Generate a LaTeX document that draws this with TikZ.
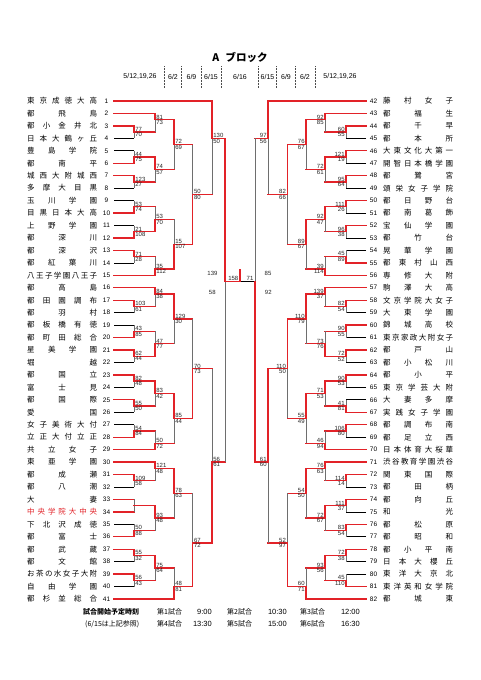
\documentclass[tikz,border=0pt]{standalone}
\usepackage{fontspec}
\setmainfont{Liberation Sans}
\newfontfamily\jp{Noto Sans CJK JP}
\usepackage{tikz}

\definecolor{winred}{RGB}{226,34,40}
\definecolor{losegray}{RGB}{110,110,110}

% 校名を枠いっぱいに均等割り
\newcommand{\spread}[1]{\makebox[70pt][s]{#1}}

\begin{document}
\begin{tikzpicture}[
    x=1pt, y=-1pt,
    win/.style={draw=winred, line width=1.3pt, line cap=rect},
    lose/.style={draw=losegray, line width=0.7pt},
    teamline/.style={draw=black, line width=0.7pt},
    tname/.style={anchor=west, inner sep=0pt, font=\jp\fontsize{7.5}{8}\selectfont},
    tnum/.style={inner sep=0pt, font=\fontsize{6.5}{7}\selectfont},
    score/.style={inner sep=0.4pt, font=\fontsize{6}{6}\selectfont, text=black!85},
    datel/.style={font=\fontsize{7}{8}\selectfont},
    sepline/.style={draw=black!70, densely dotted, line width=0.5pt},
    note/.style={anchor=west, inner sep=0pt, font=\jp\fontsize{7}{8}\selectfont},
    ntime/.style={anchor=east, inner sep=0pt, font=\fontsize{7.5}{8}\selectfont},
]
\fill[white] (0,0) rectangle (481,680);
\useasboundingbox (0,0) rectangle (481,680);

% 見出し
\node[font=\jp\bfseries\fontsize{10.5}{12}\selectfont] (title) at (240,57) {A\hspace{0.6em}ブロック};

\node[datel] (d1) at (140,76.7) {5/12,19,26};
\node[datel] (d2) at (173,76.7) {6/2};
\node[datel] (d3) at (191.5,76.7) {6/9};
\node[datel] (d4) at (211,76.7) {6/15};
\node[datel] (d5) at (240,76.7) {6/16};
\node[datel] (d6) at (267.5,76.7) {6/15};
\node[datel] (d7) at (286,76.7) {6/9};
\node[datel] (d8) at (305,76.7) {6/2};
\node[datel] (d9) at (340,76.7) {5/12,19,26};

\foreach \x [count=\i] in {164,181.7,201,221.5,258.3,276.7,295.3,315} {
  \coordinate (st\i) at (\x,66);
  \coordinate (sb\i) at (\x,88);
  \draw[sepline] (st\i) -- (sb\i);
}

\begin{scope}[shift={(0,88.55)}, y=-12.45pt]

% 左ブロック 出場校
\foreach \n/\nm/\xe/\w in {
  1/{東 京 成 徳 大 高}/212/1, 2/{都 飛 鳥}/155/1, 3/{都 小 金 井 北}/134/1,
  4/{日 本 大 鶴 ヶ 丘}/134/0, 5/{豊 島 学 院}/134/0, 6/{都 南 平}/134/1,
  7/{城 西 大 附 城 西}/134/1, 8/{多 摩 大 目 黒}/134/0, 9/{玉 川 学 園}/134/0,
  10/{目 黒 日 本 大 高}/134/1, 11/{上 野 学 園}/134/0, 12/{都 深 川}/134/1,
  13/{都 深 沢}/134/1, 14/{都 紅 葉 川}/134/0, 15/{八 王 子 学 園 八 王 子}/155/1,
  16/{都 高 島}/155/1, 17/{都 田 園 調 布}/134/1, 18/{都 羽 村}/134/0,
  19/{都 板 橋 有 徳}/134/0, 20/{都 町 田 総 合}/134/1, 21/{星 美 学 園}/134/1,
  22/{堀 越}/134/0, 23/{都 国 立}/134/1, 24/{富 士 見}/134/0,
  25/{都 国 際}/134/1, 26/{愛 国}/134/0, 27/{女 子 美 術 大 付}/134/0,
  28/{立 正 大 付 立 正}/134/1, 29/{共 立 女 子}/155/1, 30/{東 亜 学 園}/155/1,
  31/{都 成 瀬}/134/1, 32/{都 八 潮}/134/0, 33/{大 妻}/134/1,
  34/{中 央 学 院 大 中 央}/134/1, 35/{下 北 沢 成 徳}/134/0, 36/{都 富 士}/134/1,
  37/{都 武 蔵}/134/1, 38/{都 文 館}/134/0, 39/{お 茶 の 水 女 子 大 附}/134/1,
  40/{自 由 学 園}/134/0, 41/{都 杉 並 総 合}/174/1} {
  \ifnum\n=34 \def\tc{winred}\else\def\tc{black}\fi
  \node[tnum] (n\n) at (106.5,\n) {\n};
  \node[tname, text=\tc] (t\n) at (27,\n) {\spread{\nm}};
  \coordinate (a\n) at (114,\n);
  \coordinate (z\n) at (\xe,\n);
  \ifnum\w=1 \draw[win] (a\n) -- (z\n); \else \draw[teamline] (a\n) -- (z\n); \fi
}

% 右ブロック 出場校
\foreach \n/\nm/\xe/\w in {
  42/{藤 村 女 子}/268/1, 43/{都 福 生}/325/1, 44/{都 千 早}/346/1,
  45/{都 本 所}/346/0, 46/{大 東 文 化 大 第 一}/346/1, 47/{開 智 日 本 橋 学 園}/346/0,
  48/{都 鷺 宮}/346/1, 49/{頌 栄 女 子 学 院}/346/0, 50/{都 日 野 台}/346/1,
  51/{都 南 葛 飾}/346/0, 52/{宝 仙 学 園}/346/1, 53/{都 竹 台}/346/0,
  54/{晃 華 学 園}/346/0, 55/{都 東 村 山 西}/346/1, 56/{専 修 大 附}/325/1,
  57/{駒 澤 大 高}/325/1, 58/{文 京 学 院 大 女 子}/346/1, 59/{大 東 学 園}/346/0,
  60/{錦 城 高 校}/346/1, 61/{東 京 家 政 大 附 女 子}/346/0, 62/{都 戸 山}/346/1,
  63/{都 小 松 川}/346/0, 64/{都 小 平}/346/1, 65/{東 京 学 芸 大 附}/346/0,
  66/{大 妻 多 摩}/346/0, 67/{実 践 女 子 学 園}/346/1, 68/{都 調 布 南}/346/1,
  69/{都 足 立 西}/346/0, 70/{日 本 体 育 大 桜 華}/325/1, 71/{渋 谷 教 育 学 園 渋 谷}/325/1,
  72/{関 東 国 際}/346/1, 73/{都 田 柄}/346/0, 74/{都 向 丘}/346/1,
  75/{和 光}/346/0, 76/{都 松 原}/346/1, 77/{都 昭 和}/346/0,
  78/{都 小 平 南}/346/1, 79/{日 本 大 櫻 丘}/346/0, 80/{東 洋 大 京 北}/346/0,
  81/{東 洋 英 和 女 学 院}/346/1, 82/{都 城 東}/306/1} {
  \pgfmathtruncatemacro\k{\n-41}
  \node[tnum] (n\n) at (373.5,\k) {\n};
  \node[tname] (t\n) at (383,\k) {\spread{\nm}};
  \coordinate (a\n) at (366,\k);
  \coordinate (z\n) at (\xe,\k);
  \ifnum\w=1 \draw[win] (a\n) -- (z\n); \else \draw[teamline] (a\n) -- (z\n); \fi
}

% 左ブロック 試合
\foreach \x/\px/\yt/\yb/\ye/\w/\sa/\sb [count=\i] in {
  134/155/3/4/3.5/1/77/70, 134/155/5/6/5.5/2/44/75, 134/155/7/8/7.5/1/123/27,
  134/155/9/10/9.5/2/53/74, 134/155/11/12/11.5/2/21/108, 134/155/13/14/13.5/1/71/28,
  134/155/17/18/17.5/1/103/61, 134/155/19/20/19.5/2/43/85, 134/155/21/22/21.5/1/62/44,
  134/155/23/24/23.5/1/82/48, 134/155/25/26/25.5/1/55/50, 134/155/27/28/27.5/2/54/84,
  134/155/31/32/31.5/1/109/58, 134/155/33/34/33.5/0/{}/{}, 134/155/35/36/35.5/2/50/88,
  134/155/37/38/37.5/1/55/32, 134/155/39/40/39.5/1/56/43,
  155/174/2/3.5/2.5/1/81/73, 155/174/5.5/7.5/6.5/1/74/57, 155/174/9.5/11.5/10.5/2/53/70,
  155/174/13.5/15/14.5/2/35/112, 155/174/16/17.5/16.5/1/84/38, 155/174/19.5/21.5/20.5/2/47/77,
  155/174/23.5/25.5/24.5/1/83/42, 155/174/27.5/29/28.5/2/50/72, 155/174/30/31.5/30.5/1/121/48,
  155/174/33.5/35.5/34.5/1/93/48, 155/174/37.5/39.5/38.5/1/75/64,
  174/192.7/2.5/6.5/4.5/1/72/69, 174/192.7/10.5/14.5/12.5/2/15/107,
  174/192.7/16.5/20.5/18.5/1/129/30, 174/192.7/24.5/28.5/26.5/1/85/44,
  174/192.7/30.5/34.5/32.5/1/78/63, 174/192.7/38.5/41/40/2/48/81,
  192.7/212/4.5/12.5/8.5/2/50/80, 192.7/212/18.5/26.5/22.5/2/70/73,
  192.7/212/32.5/40/36.5/2/67/72,
  212/225/1/8.5/4/1/130/50, 212/225/22.5/36.5/30/2/56/61} {
  \coordinate (Lt\i) at (\x,\yt);
  \coordinate (Lb\i) at (\x,\yb);
  \coordinate (Le\i) at (\x,\ye);
  \coordinate (Lp\i) at (\px,\ye);
  \ifnum\w=1 \draw[win] (Lt\i) -- (Le\i); \else \draw[lose] (Lt\i) -- (Le\i); \fi
  \ifnum\w=2 \draw[win] (Le\i) -- (Lb\i); \else \draw[lose] (Le\i) -- (Lb\i); \fi
  \draw[win] (Le\i) -- (Lp\i);
  \node[score, anchor=south west, xshift=0.8pt] (Lsa\i) at (Le\i) {\sa};
  \node[score, anchor=north west, xshift=0.8pt] (Lsb\i) at (Le\i) {\sb};
}

% 右ブロック 試合
\foreach \x/\px/\yt/\yb/\ye/\w/\sa/\sb [count=\i] in {
  346/325/3/4/3.5/1/60/55, 346/325/5/6/5.5/1/121/19, 346/325/7/8/7.5/1/95/64,
  346/325/9/10/9.5/1/111/26, 346/325/11/12/11.5/1/96/38, 346/325/13/14/13.5/2/45/89,
  346/325/17/18/17.5/1/82/54, 346/325/19/20/19.5/1/90/55, 346/325/21/22/21.5/1/72/52,
  346/325/23/24/23.5/1/90/53, 346/325/25/26/25.5/2/41/81, 346/325/27/28/27.5/1/106/80,
  346/325/31/32/31.5/1/114/14, 346/325/33/34/33.5/1/111/37, 346/325/35/36/35.5/1/83/54,
  346/325/37/38/37.5/1/72/38, 346/325/39/40/39.5/2/45/110,
  325/306/2/3.5/2.5/1/92/85, 325/306/5.5/7.5/6.5/1/72/61, 325/306/9.5/11.5/10.5/1/92/47,
  325/306/13.5/15/14.5/2/39/114, 325/306/16/17.5/16.5/1/139/37, 325/306/19.5/21.5/20.5/2/73/76,
  325/306/23.5/25.5/24.5/1/71/53, 325/306/27.5/29/28.5/2/46/94, 325/306/30/31.5/30.5/1/76/63,
  325/306/33.5/35.5/34.5/1/72/67, 325/306/37.5/39.5/38.5/1/93/56,
  306/287.3/2.5/6.5/4.5/1/76/67, 306/287.3/10.5/14.5/12.5/1/89/67,
  306/287.3/16.5/20.5/18.5/1/110/79, 306/287.3/24.5/28.5/26.5/1/55/49,
  306/287.3/30.5/34.5/32.5/1/54/50, 306/287.3/38.5/41/40/2/60/71,
  287.3/268/4.5/12.5/8.5/1/82/66, 287.3/268/18.5/26.5/22.5/1/110/50,
  287.3/268/32.5/40/36.5/2/52/97,
  268/255/1/8.5/4/1/97/56, 268/255/22.5/36.5/30/1/61/60} {
  \coordinate (Rt\i) at (\x,\yt);
  \coordinate (Rb\i) at (\x,\yb);
  \coordinate (Re\i) at (\x,\ye);
  \coordinate (Rp\i) at (\px,\ye);
  \ifnum\w=1 \draw[win] (Rt\i) -- (Re\i); \else \draw[lose] (Rt\i) -- (Re\i); \fi
  \ifnum\w=2 \draw[win] (Re\i) -- (Rb\i); \else \draw[lose] (Re\i) -- (Rb\i); \fi
  \draw[win] (Re\i) -- (Rp\i);
  \node[score, anchor=south east, xshift=-0.8pt] (Rsa\i) at (Re\i) {\sa};
  \node[score, anchor=north east, xshift=-0.8pt] (Rsb\i) at (Re\i) {\sb};
}

% 準決勝・決勝
\coordinate (SLt) at (225,4);
\coordinate (SLe) at (225,15.5);
\coordinate (SLb) at (225,30);
\coordinate (SRt) at (255,4);
\coordinate (SRe) at (255,15.5);
\coordinate (SRb) at (255,30);
\coordinate (F) at (240,15.5);
\coordinate (Ftop) at (240,14.55);
\draw[lose] (SLe) -- (SLb);
\draw[lose] (SRt) -- (SRe);
\draw[teamline] (F) -- (SRe);
\draw[win] (SLt) -- (SLe);
\draw[win] (SRe) -- (SRb);
\draw[win] (SLe) -- (F) -- (Ftop);

\node[score] (semiLa) at (212.5,14.84) {139};
\node[score] (semiLb) at (212.3,16.38) {58};
\node[score] (semiRa) at (268,14.84) {85};
\node[score] (semiRb) at (268.3,16.38) {92};
\node[score, anchor=south] (finL) at (233.3,15.5) {158};
\node[score, anchor=south] (finR) at (250,15.5) {71};

\end{scope}

% 試合開始予定時刻
\node[note, font=\jp\bfseries\fontsize{7}{8}\selectfont] (ntitle) at (83,611.7) {試合開始予定時刻};
\node[note] (nsub) at (85,624) {(6/15は上記参照)};
\node[note] (g1) at (157,611.7) {第1試合};
\node[ntime] (h1) at (212,611.7) {9:00};
\node[note] (g2) at (227,611.7) {第2試合};
\node[ntime] (h2) at (287,611.7) {10:30};
\node[note] (g3) at (300,611.7) {第3試合};
\node[ntime] (h3) at (360,611.7) {12:00};
\node[note] (g4) at (157,624) {第4試合};
\node[ntime] (h4) at (212,624) {13:30};
\node[note] (g5) at (227,624) {第5試合};
\node[ntime] (h5) at (287,624) {15:00};
\node[note] (g6) at (300,624) {第6試合};
\node[ntime] (h6) at (360,624) {16:30};

\end{tikzpicture}
\end{document}
